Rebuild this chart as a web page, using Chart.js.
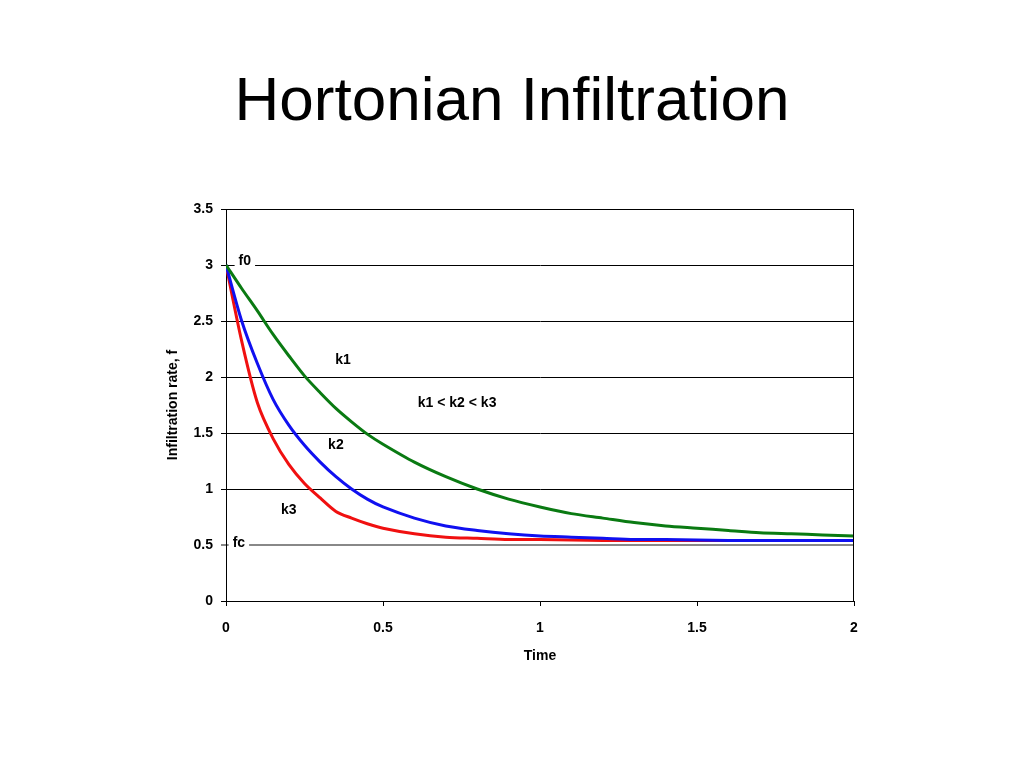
<!DOCTYPE html>
<html>
<head>
<meta charset="utf-8">
<script src="https://cdn.jsdelivr.net/npm/chart.js@4"></script>
<style>
  html, body { margin: 0; padding: 0; background: #fff; }
  #chart { display: block; }
</style>
</head>
<body>
<canvas id="chart" width="1024" height="768"></canvas>
<script>
// time axis (shared by all three curves)
const times = [0, 0.05, 0.1, 0.15, 0.2, 0.25, 0.3, 0.35, 0.4, 0.45, 0.5,
	0.6, 0.7, 0.8, 0.9, 1.0, 1.1, 1.2, 1.3, 1.4, 1.5, 1.6, 1.7, 1.8, 1.9, 2.0];

// infiltration rate
const k1Rate = [3.0, 2.79, 2.59, 2.38, 2.19, 2.01, 1.86, 1.72, 1.60, 1.49, 1.40,
	1.24, 1.11, 1.00, 0.91, 0.84, 0.78, 0.74, 0.70, 0.67, 0.65, 0.63, 0.61, 0.60, 0.59, 0.58];
const k2Rate = [3.0, 2.50, 2.12, 1.80, 1.57, 1.39, 1.24, 1.11, 1.00, 0.91, 0.84,
	0.74, 0.67, 0.63, 0.60, 0.58, 0.57, 0.56, 0.55, 0.55, 0.545, 0.54, 0.54, 0.54, 0.54, 0.54];
const k3Rate = [3.0, 2.32, 1.77, 1.45, 1.22, 1.05, 0.92, 0.80, 0.74, 0.69, 0.65,
	0.60, 0.57, 0.56, 0.55, 0.55, 0.545, 0.54, 0.54, 0.54, 0.54, 0.54, 0.54, 0.54, 0.54, 0.54];

const xTicks = [0, 0.5, 1, 1.5, 2];
const yTicks = [0, 0.5, 1, 1.5, 2, 2.5, 3, 3.5];

// text labels inside the plot (data coordinates)
const noteText = ['f0', 'k1', 'k1 < k2 < k3', 'k2', 'k3', 'fc'];
const noteX = [0.06, 0.373, 0.736, 0.35, 0.20, 0.041];
const noteY = [3.03, 2.15, 1.77, 1.39, 0.81, 0.52];

const titleText = 'Hortonian Infiltration';

const toPoints = (vals) => times.map((t, i) => ({ x: t, y: vals[i] }));

const fontFamily = 'Arial, "Liberation Sans", sans-serif';
const boldFont = { family: fontFamily, size: 14, weight: 'bold' };

const notesPlugin = {
	id: 'notes',
	beforeDraw(chart) {
		const { ctx } = chart;
		ctx.save();
		ctx.font = '62px ' + fontFamily;
		ctx.fillStyle = '#000';
		ctx.textAlign = 'center';
		ctx.textBaseline = 'alphabetic';
		ctx.fillText(titleText, 512, 120);
		ctx.restore();
	},
	afterDatasetsDraw(chart) {
		const { ctx, chartArea, scales } = chart;
		ctx.save();
		// plot frame (top and right sides)
		ctx.strokeStyle = '#000';
		ctx.lineWidth = 1;
		ctx.beginPath();
		ctx.moveTo(chartArea.left, chartArea.top + 0.5);
		ctx.lineTo(chartArea.right - 0.5, chartArea.top + 0.5);
		ctx.lineTo(chartArea.right - 0.5, chartArea.bottom);
		ctx.stroke();

		ctx.font = 'bold 14px ' + fontFamily;
		ctx.textAlign = 'center';
		ctx.textBaseline = 'middle';
		noteText.forEach((txt, i) => {
			const px = scales.x.getPixelForValue(noteX[i]);
			const py = scales.y.getPixelForValue(noteY[i]);
			const w = ctx.measureText(txt).width;
			ctx.fillStyle = '#fff';
			ctx.fillRect(px - w / 2 - 4, py - 8, w + 8, 16);
			ctx.fillStyle = '#000';
			ctx.fillText(txt, px, py);
		});
		ctx.restore();
	},
};

new Chart(document.getElementById('chart'), {
	type: 'line',
	data: {
		datasets: [
			{ label: 'k1', data: toPoints(k1Rate), borderColor: '#0a7a12', borderWidth: 3 },
			{ label: 'k2', data: toPoints(k2Rate), borderColor: '#1010f0', borderWidth: 3 },
			{ label: 'k3', data: toPoints(k3Rate), borderColor: '#f01010', borderWidth: 3 },
		].map((d) => ({ ...d, pointRadius: 0, tension: 0.3, fill: false })),
	},
	plugins: [notesPlugin],
	options: {
		responsive: false,
		animation: false,
		layout: { padding: { left: 161, right: 170, bottom: 99, top: 209 } },
		plugins: {
			legend: { display: false },
			tooltip: { enabled: false },
			title: { display: false },
		},
		scales: {
			x: {
				type: 'linear',
				min: 0,
				max: 2,
				afterBuildTicks: (s) => { s.ticks = xTicks.map((v) => ({ value: v })); },
				afterFit: (s) => { s.height = 68; },
				border: { color: '#000', width: 1 },
				grid: { drawOnChartArea: false, drawTicks: true, tickLength: 5, color: '#000' },
				ticks: { color: '#000', font: boldFont, padding: 14, maxRotation: 0, callback: (v) => String(v) },
				title: { display: true, text: 'Time', color: '#000', font: boldFont, padding: { top: 4 } },
			},
			y: {
				min: 0,
				max: 3.5,
				afterBuildTicks: (s) => { s.ticks = yTicks.map((v) => ({ value: v })); },
				afterFit: (s) => { s.width = 65; },
				border: { color: '#000', width: 1 },
				grid: {
					drawTicks: true,
					tickLength: 5,
					color: (c) => (c.tick && c.tick.value === 0.5 ? '#888' : '#000'),
					lineWidth: (c) => (c.tick && c.tick.value === 0.5 ? 2 : 1),
				},
				ticks: { color: '#000', font: boldFont, padding: 8, callback: (v) => String(v) },
				title: { display: true, text: 'Infiltration rate, f', color: '#000', font: boldFont, padding: { bottom: 8 } },
			},
		},
	},
});
</script>
</body>
</html>
